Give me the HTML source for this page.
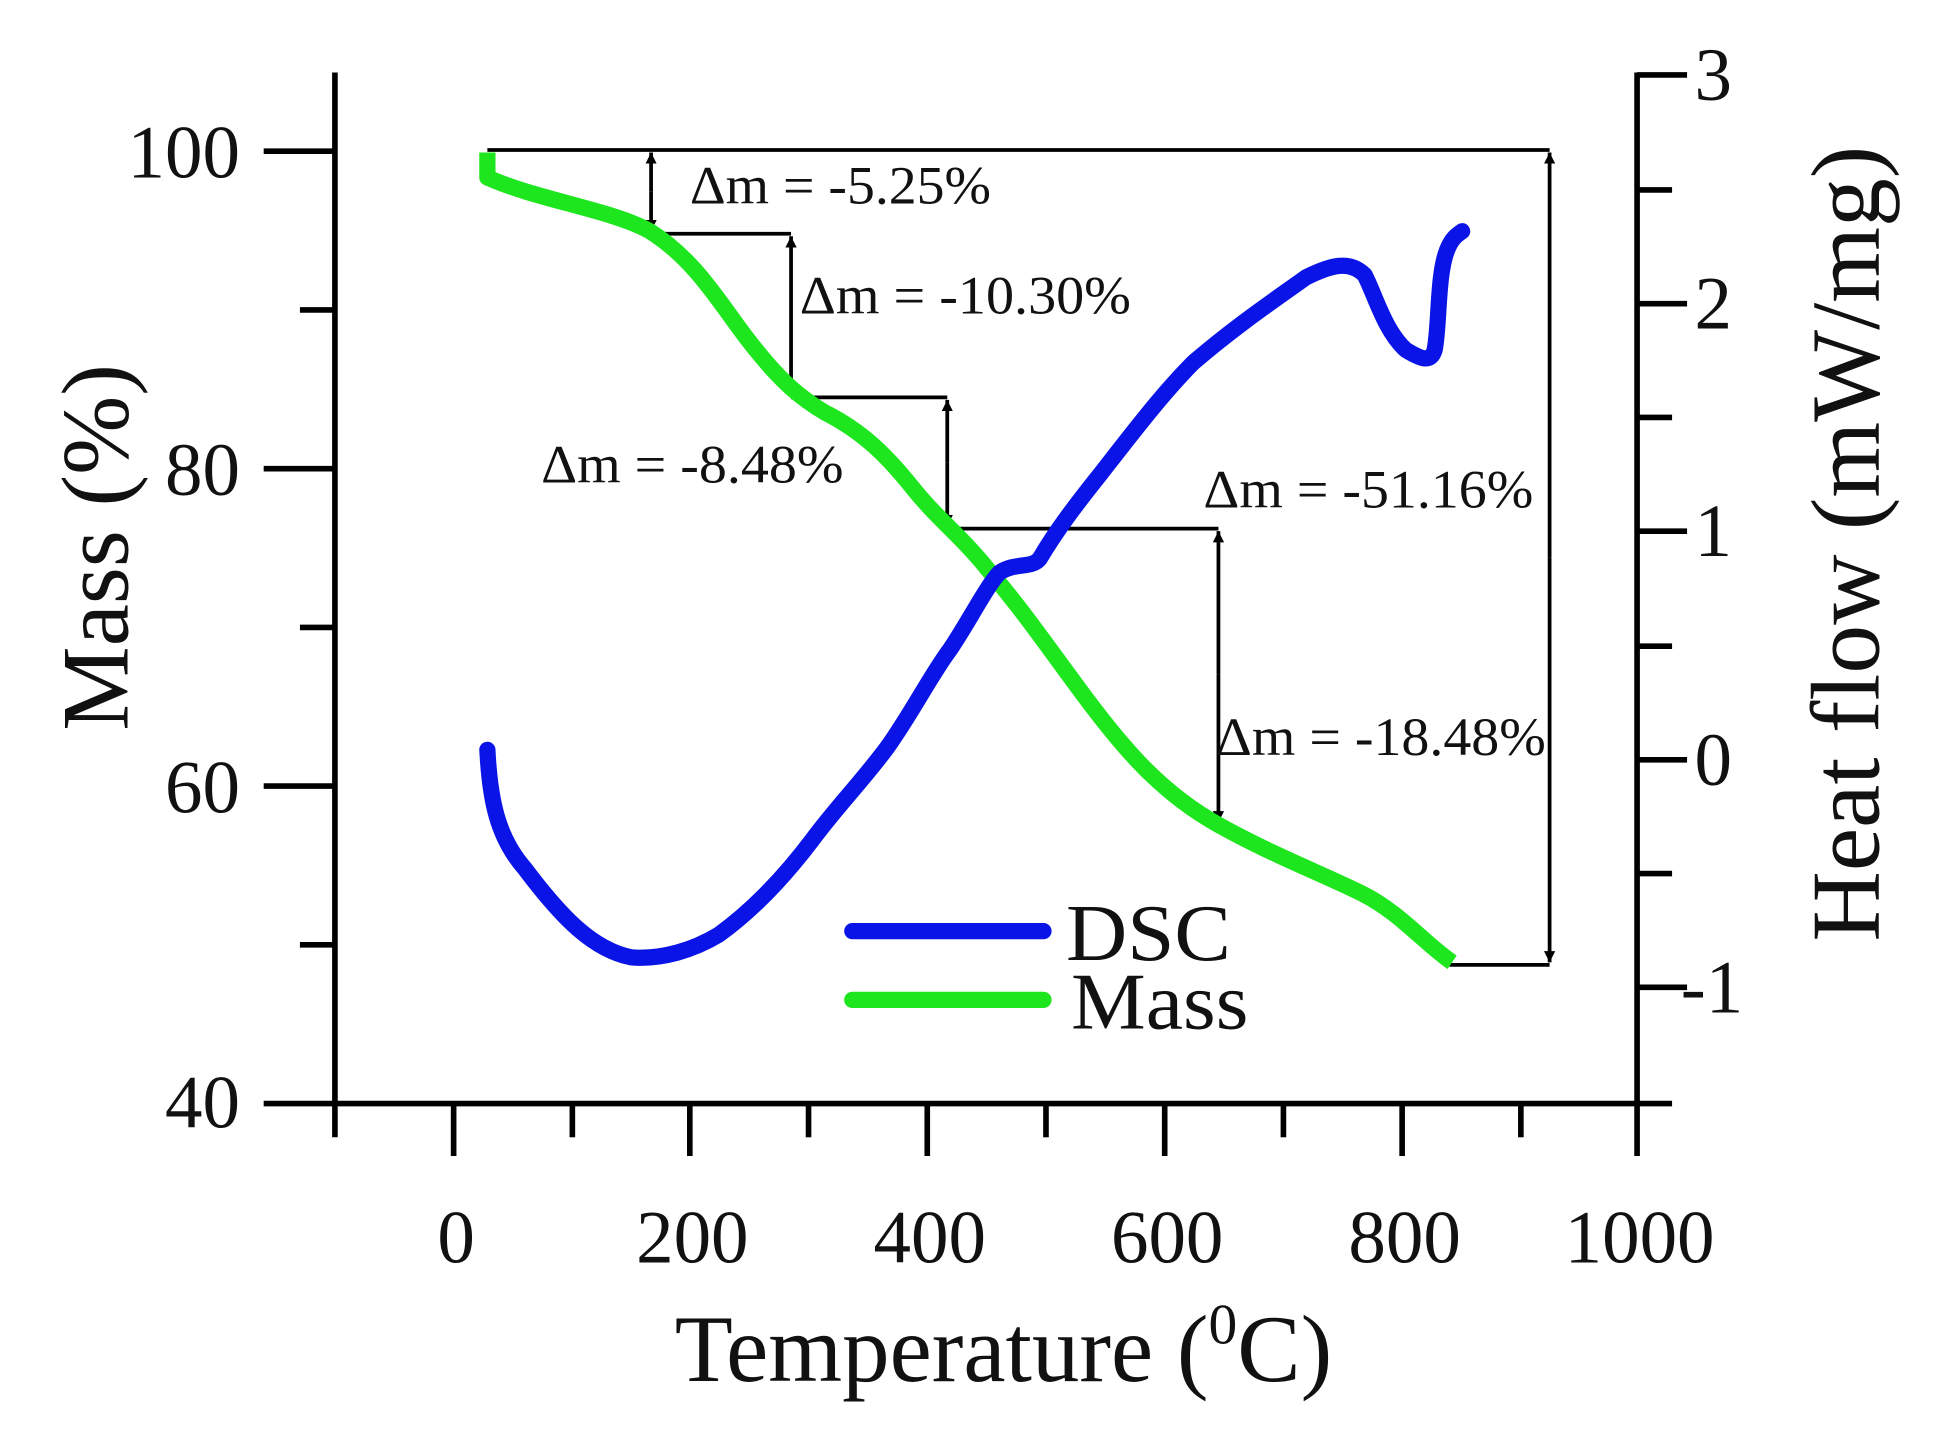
<!DOCTYPE html>
<html><head><meta charset="utf-8"><style>
html,body{margin:0;padding:0;background:#fff;}
svg{display:block;}
text{font-family:"Liberation Serif",serif;fill:#111;}
</style></head><body>
<svg width="1937" height="1436" viewBox="0 0 1550 1149" preserveAspectRatio="none" xmlns="http://www.w3.org/2000/svg">
<defs>
<marker id="ah" viewBox="0 0 10 10" refX="10" refY="5" markerWidth="3" markerHeight="4" orient="auto"><path d="M0,0 L10,5 L0,10 z" fill="#000"/></marker>
</defs>
<g stroke="#000" stroke-width="4.5" fill="none">
<line x1="268" y1="58" x2="268" y2="910"/>
<line x1="211" y1="883" x2="1338" y2="883"/>
<line x1="1310" y1="58" x2="1310" y2="883"/>
<line x1="1310" y1="60" x2="1350" y2="60"/>
<line x1="211" y1="121" x2="268" y2="121"/><line x1="211" y1="375" x2="268" y2="375"/><line x1="211" y1="629" x2="268" y2="629"/>
<line x1="240" y1="248" x2="268" y2="248"/><line x1="240" y1="502" x2="268" y2="502"/><line x1="240" y1="756" x2="268" y2="756"/>
<line x1="1310" y1="243" x2="1350" y2="243"/><line x1="1310" y1="425" x2="1350" y2="425"/><line x1="1310" y1="608" x2="1350" y2="608"/><line x1="1310" y1="790" x2="1350" y2="790"/>
<line x1="1310" y1="152" x2="1338" y2="152"/><line x1="1310" y1="334" x2="1338" y2="334"/><line x1="1310" y1="517" x2="1338" y2="517"/><line x1="1310" y1="699" x2="1338" y2="699"/>
<line x1="363" y1="883" x2="363" y2="925"/><line x1="552" y1="883" x2="552" y2="925"/><line x1="742" y1="883" x2="742" y2="925"/><line x1="932" y1="883" x2="932" y2="925"/><line x1="1122" y1="883" x2="1122" y2="925"/><line x1="1310" y1="883" x2="1310" y2="925"/>
<line x1="458" y1="883" x2="458" y2="910"/><line x1="647" y1="883" x2="647" y2="910"/><line x1="837" y1="883" x2="837" y2="910"/><line x1="1027" y1="883" x2="1027" y2="910"/><line x1="1217" y1="883" x2="1217" y2="910"/>
</g>
<g font-size="60" text-anchor="end">
<text x="192" y="142">100</text><text x="192" y="396">80</text><text x="192" y="650">60</text><text x="192" y="902">40</text>
</g>
<g font-size="60" text-anchor="start">
<text x="1356" y="80">3</text><text x="1356" y="263">2</text><text x="1356" y="445">1</text><text x="1356" y="628">0</text><text x="1345" y="810">-1</text>
</g>
<g font-size="60" text-anchor="middle">
<text x="365" y="1010">0</text><text x="554" y="1010">200</text><text x="744" y="1010">400</text><text x="934" y="1010">600</text><text x="1124" y="1010">800</text><text x="1312" y="1010">1000</text>
</g>
<text x="803" y="1105" font-size="76" text-anchor="middle">Temperature (<tspan font-size="46" dy="-30">0</tspan><tspan dy="30">C)</tspan></text>
<text transform="translate(102,438) rotate(-90)" font-size="76" text-anchor="middle">Mass (%)</text>
<text transform="translate(1503,435) rotate(-90)" font-size="78" text-anchor="middle">Heat flow (mW/mg)</text>
<g stroke="#000" stroke-width="3" fill="none">
<polyline points="390,120 1240,120"/>
<polyline points="521,187 633,187"/>
<polyline points="633,318 758,318"/>
<polyline points="758,423 975,423"/>
<polyline points="1160,772 1240,772"/>
<line x1="521" y1="153" x2="521" y2="122" marker-end="url(#ah)"/><line x1="521" y1="153" x2="521" y2="185" marker-end="url(#ah)"/>
<line x1="633" y1="252" x2="633" y2="189" marker-end="url(#ah)"/><line x1="633" y1="252" x2="633" y2="316" marker-end="url(#ah)"/>
<line x1="758" y1="370" x2="758" y2="320" marker-end="url(#ah)"/><line x1="758" y1="370" x2="758" y2="421" marker-end="url(#ah)"/>
<line x1="975" y1="540" x2="975" y2="425" marker-end="url(#ah)"/><line x1="975" y1="540" x2="975" y2="658" marker-end="url(#ah)"/>
<line x1="1240" y1="446" x2="1240" y2="122" marker-end="url(#ah)"/><line x1="1240" y1="446" x2="1240" y2="770" marker-end="url(#ah)"/>
</g>
<g font-size="43" textLength="0">
<text x="552" y="163" textLength="241" lengthAdjust="spacingAndGlyphs">Δm = -5.25%</text>
<text x="640" y="251" textLength="265" lengthAdjust="spacingAndGlyphs">Δm = -10.30%</text>
<text x="433" y="386" textLength="242" lengthAdjust="spacingAndGlyphs">Δm = -8.48%</text>
<text x="963" y="406" textLength="264" lengthAdjust="spacingAndGlyphs">Δm = -51.16%</text>
<text x="973" y="604" textLength="264" lengthAdjust="spacingAndGlyphs">Δm = -18.48%</text>
</g>
<path d="M390,122 L390,142 C430,160 490,168 520,185 C560,210 580,250 605,280 C625,305 640,318 660,330 C690,345 710,365 730,390 C750,415 770,430 790,455 C820,490 840,520 870,560 C900,600 930,635 975,660 C1020,685 1060,700 1090,715 C1120,730 1140,755 1162,770" stroke="#1ee61e" stroke-width="13" fill="none" stroke-linejoin="round"/>
<path d="M390,600 C392,640 398,670 420,695 C450,735 475,760 505,766 C530,768 555,760 575,748 C600,730 625,705 650,672 C670,645 690,625 710,598 C730,570 745,540 760,520 C775,498 790,468 800,458 C812,450 826,455 832,447 C845,425 860,405 880,380 C905,348 930,315 955,290 C990,260 1020,240 1045,222 C1065,212 1080,208 1092,220 C1100,235 1108,265 1125,280 C1138,288 1145,290 1148,280 C1152,260 1150,220 1158,200 C1162,190 1166,188 1170,185" stroke="#0a14e6" stroke-width="13" fill="none" stroke-linejoin="round" stroke-linecap="round"/>
<line x1="682" y1="745" x2="835" y2="745" stroke="#0a14e6" stroke-width="13" stroke-linecap="round"/>
<line x1="682" y1="800" x2="835" y2="800" stroke="#1ee61e" stroke-width="13" stroke-linecap="round"/>
<text x="853" y="768" font-size="64" textLength="132" lengthAdjust="spacingAndGlyphs">DSC</text>
<text x="857" y="823" font-size="64" textLength="142" lengthAdjust="spacingAndGlyphs">Mass</text>
</svg>
</body></html>
